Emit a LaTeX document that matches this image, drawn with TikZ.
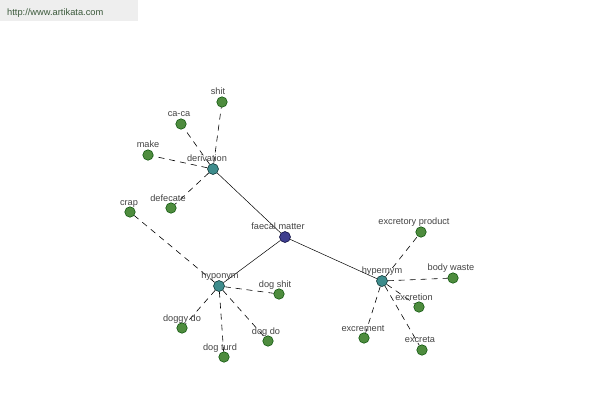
\documentclass[tikz,border=0pt]{standalone}
\usepackage{fontspec}
\setmainfont{Liberation Sans}
\begin{document}
\begin{tikzpicture}[x=1pt,y=-1pt,
  leaf/.style={circle,draw=black!70!green,fill=leafgreen,line width=0.5pt,minimum size=10.5pt,inner sep=0pt},
  rel/.style={circle,draw=black!70!teal,fill=relteal,line width=0.5pt,minimum size=11pt,inner sep=0pt},
  root/.style={circle,draw=black!80!blue,fill=rootblue,line width=0.5pt,minimum size=11pt,inner sep=0pt},
  lbl/.style={font=\fontsize{9.2}{10}\selectfont,text=txtgray,inner sep=0pt,anchor=base},
  solidedge/.style={draw=black,line width=0.5pt},
  dashedge/.style={draw=black,line width=0.6pt,dash pattern=on 6pt off 5pt}]
\definecolor{leafgreen}{HTML}{4E8C3E}
\definecolor{relteal}{HTML}{3E8C8C}
\definecolor{rootblue}{HTML}{3E3E8E}
\definecolor{txtgray}{HTML}{444444}
\definecolor{boxgray}{HTML}{EEEEEE}
\definecolor{urlgreen}{HTML}{3C5A3C}
\useasboundingbox (0,0) rectangle (600,400);
\fill[white] (0,0) rectangle (600,400);
\fill[boxgray] (0,0) rectangle (138,21);
\node[font=\fontsize{9.3}{10}\selectfont,text=urlgreen,anchor=base west,inner sep=0pt] (url) at (7,15) {http://www.artikata.com};
% nodes
\node[root] (fm) at (285,237) {};
\node[rel] (der) at (213,169) {};
\node[rel] (hypo) at (219,286) {};
\node[rel] (hyper) at (382,281) {};
\node[leaf] (shit) at (222,102) {};
\node[leaf] (caca) at (181,124) {};
\node[leaf] (make) at (148,155) {};
\node[leaf] (defecate) at (171,208) {};
\node[leaf] (crap) at (130,212) {};
\node[leaf] (dogshit) at (279,294) {};
\node[leaf] (doggydo) at (182,328) {};
\node[leaf] (dogturd) at (224,357) {};
\node[leaf] (dogdo) at (268,341) {};
\node[leaf] (expr) at (421,232) {};
\node[leaf] (bodyw) at (453,278) {};
\node[leaf] (excretion) at (419,307) {};
\node[leaf] (excrement) at (364,338) {};
\node[leaf] (excreta) at (422,350) {};
% edges
\draw[solidedge] (fm) -- (der);
\draw[solidedge] (fm) -- (hypo);
\draw[solidedge] (fm) -- (hyper);
\foreach \n in {shit,caca,make,defecate}{\draw[dashedge] (der) -- (\n);}
\foreach \n in {crap,dogshit,doggydo,dogturd,dogdo}{\draw[dashedge] (hypo) -- (\n);}
\foreach \n in {expr,bodyw,excretion,excrement,excreta}{\draw[dashedge] (hyper) -- (\n);}
% labels
\node[lbl] (l1) at (278,229) {faecal matter};
\node[lbl] (l2) at (207,161) {derivation};
\node[lbl] (l3) at (220,278) {hyponym};
\node[lbl] (l4) at (382,273) {hypernym};
\node[lbl] (l5) at (218,94) {shit};
\node[lbl] (l6) at (179,116) {ca-ca};
\node[lbl] (l7) at (148,147) {make};
\node[lbl] (l8) at (168,201) {defecate};
\node[lbl] (l9) at (129,205) {crap};
\node[lbl] (l10) at (275,287) {dog shit};
\node[lbl] (l11) at (182,321) {doggy do};
\node[lbl] (l12) at (220,350) {dog turd};
\node[lbl] (l13) at (266,334) {dog do};
\node[lbl] (l14) at (414,224) {excretory product};
\node[lbl] (l15) at (451,270) {body waste};
\node[lbl] (l16) at (414,300) {excretion};
\node[lbl] (l17) at (363,331) {excrement};
\node[lbl] (l18) at (420,342) {excreta};
\end{tikzpicture}
\end{document}
